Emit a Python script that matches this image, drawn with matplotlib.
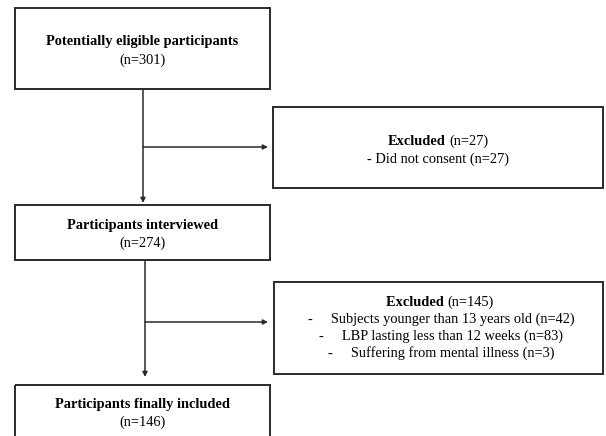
import matplotlib.pyplot as plt
from matplotlib.patches import Rectangle

# flow stages and counts
stage_titles = ['Potentially eligible participants', 'Participants interviewed',
                'Participants finally included']
stage_counts = [301, 274, 146]

excl_totals = [27, 145]
excl_reasons = [['Did not consent'],
                ['Subjects younger than 13 years old', 'LBP lasting less than 12 weeks',
                 'Suffering from mental illness']]
excl_counts = [[27], [42, 83, 3]]

plt.rcParams['font.family'] = ['Liberation Serif', 'DejaVu Serif']
FS = 10.4
LC = '#2a2a2a'

fig = plt.figure(figsize=(6.06, 4.36), dpi=100)
ax = fig.add_axes([0, 0, 1, 1])
ax.set_xlim(0, 606)
ax.set_ylim(436, 0)
ax.axis('off')

# main boxes (x0, y0, x1, y1) in pixels
main_boxes = [(15, 8, 270, 89), (15, 205, 270, 260), (15, 385, 270, 445)]
excl_boxes = [(273, 107, 603, 188), (274, 282, 603, 374)]

def box(b):
    x0, y0, x1, y1 = b
    ax.add_patch(Rectangle((x0, y0), x1 - x0, y1 - y0, fill=False,
                           ec=LC, lw=1.4, clip_on=False))

def arrow(x0, y0, x1, y1):
    ax.annotate('', xy=(x1, y1), xytext=(x0, y0),
                arrowprops=dict(arrowstyle='-|>', color=LC, lw=1.1,
                                mutation_scale=7, shrinkA=0, shrinkB=0))

for b in main_boxes + excl_boxes:
    box(b)

# main box text
text_y = [(42, 60), (225, 243), (404, 422)]
for (t, n), (y1, y2) in zip(zip(stage_titles, stage_counts), text_y):
    ax.text(142.5, y1, t, ha='center', va='center', fontsize=FS, fontweight='bold')
    ax.text(142.5, y2, f'(n={n})', ha='center', va='center', fontsize=FS)

# vertical arrows between stages
vx = [143, 145]
arrow(vx[0], 89, vx[0], 203)
arrow(vx[1], 260, vx[1], 377)

# side arrows
arrow(vx[0], 147, 268, 147)
arrow(vx[1], 322, 268, 322)

# excluded box 1
cx1 = 446
ax.text(cx1, 141, 'Excluded', ha='right', va='center', fontsize=FS, fontweight='bold')
ax.text(cx1 + 3, 141, f'(n={excl_totals[0]})', ha='left', va='center', fontsize=FS)
ax.text(438, 159, f'- {excl_reasons[0][0]} (n={excl_counts[0][0]})',
        ha='center', va='center', fontsize=FS)

# excluded box 2
cx2 = 441
ax.text(cx2 + 6, 302, 'Excluded ', ha='right', va='center', fontsize=FS, fontweight='bold')
ax.text(cx2 + 6, 302, f'(n={excl_totals[1]})', ha='left', va='center', fontsize=FS)
for i, (r, c) in enumerate(zip(excl_reasons[1], excl_counts[1])):
    ax.text(cx2, 319 + 17 * i, f'-     {r} (n={c})', ha='center', va='center',
            fontsize=FS)

fig.savefig('out.png', dpi=100, facecolor='white')
